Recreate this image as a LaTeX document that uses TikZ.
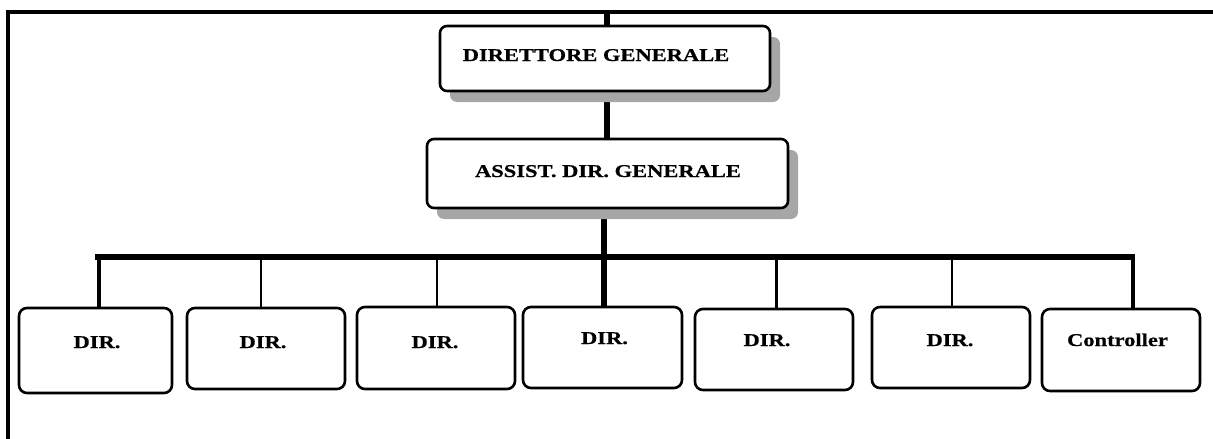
\documentclass[tikz,border=0pt]{standalone}
\usepackage{fontspec}
\setmainfont{Liberation Serif}[FakeStretch=1.25,FakeBold=0.6]
\usetikzlibrary{shadows,backgrounds,calc}

\begin{document}
\begin{tikzpicture}[x=1pt,y=-1pt,
  box/.style={draw, line width=2.6pt, rounded corners=7pt, fill=white, inner sep=0pt},
  shadowed/.style={drop shadow={shadow xshift=10pt, shadow yshift=-11pt, fill=black!35, opacity=1}},
  lbl/.style={anchor=base, inner sep=0pt, font=\fontsize{18}{20}\selectfont\bfseries},
  frame/.style={line width=3.5pt},
  trunk/.style={line width=5.5pt},
  busline/.style={line width=5.5pt},
  branch/.style={line width=#1},
  branch/.default=2.5pt]

\useasboundingbox (0,0) rectangle (1213,439);

% page frame (left and top edges)
\draw[frame] (8,439) -- (8,12) -- (1213,12);

% helper coordinates
\coordinate (topin) at (607,12);
\coordinate (spine) at (604,0);
\coordinate (busL) at (95,257);
\coordinate (busR) at (1135,257);

% top management
\node[box, shadowed, minimum width=330pt, minimum height=65pt] (dg) at (605,58.5) {};
\node[lbl] (dgt) at (596,61) {DIRETTORE GENERALE};
\node[box, shadowed, minimum width=361pt, minimum height=69pt] (adg) at (607.5,173.5) {};
\node[lbl] (adgt) at (608,177) {ASSIST. DIR. GENERALE};

% directorates
\node[box, rounded corners=8pt, minimum width=153pt, minimum height=85pt] (d1) at (95.5,350.5) {};
\node[lbl] (d1t) at (97,348) {DIR.};
\node[box, rounded corners=8pt, minimum width=158pt, minimum height=81pt] (d2) at (266,348.5) {};
\node[lbl] (d2t) at (263,348) {DIR.};
\node[box, rounded corners=8pt, minimum width=158pt, minimum height=82pt] (d3) at (436,348) {};
\node[lbl] (d3t) at (435,348) {DIR.};
\node[box, rounded corners=8pt, minimum width=159pt, minimum height=81pt] (d4) at (602.5,347.5) {};
\node[lbl] (d4t) at (604.5,344) {DIR.};
\node[box, rounded corners=8pt, minimum width=158pt, minimum height=81pt] (d5) at (774,349.5) {};
\node[lbl] (d5t) at (767,346) {DIR.};
\node[box, rounded corners=8pt, minimum width=158pt, minimum height=81pt] (d6) at (951,347.5) {};
\node[lbl] (d6t) at (950,346) {DIR.};
\node[box, rounded corners=8pt, minimum width=158pt, minimum height=82pt] (d7) at (1121,350) {};
\node[lbl] (d7t) at (1117.5,346) {Controller};

% connectors, kept behind the boxes and their shadows
\begin{scope}[on background layer]
  \draw[trunk] (topin) -- (topin |- dg.north);
  \draw[trunk] (dg.south -| topin) -- (adg.north -| topin);
  \draw[trunk] (adg.south -| spine) -- (d4.north -| spine);
  \draw[busline] (busL) -- (busR);
  \path ([xshift=3.5pt]d1.north) coordinate (t1)
        ([xshift=-5pt]d2.north) coordinate (t2)
        ([xshift=1pt]d3.north) coordinate (t3)
        ([xshift=2pt]d5.north) coordinate (t5)
        ([xshift=1pt]d6.north) coordinate (t6)
        ([xshift=12pt]d7.north) coordinate (t7);
  \draw[branch=3.5pt] (t1) -- (t1 |- busL);
  \draw[branch=2pt] (t2) -- (t2 |- busL);
  \draw[branch=2pt] (t3) -- (t3 |- busL);
  \draw[branch=3pt] (t5) -- (t5 |- busL);
  \draw[branch=2.5pt] (t6) -- (t6 |- busL);
  \draw[branch=3.5pt] (t7) -- (t7 |- busL);
\end{scope}
\end{tikzpicture}
\end{document}
